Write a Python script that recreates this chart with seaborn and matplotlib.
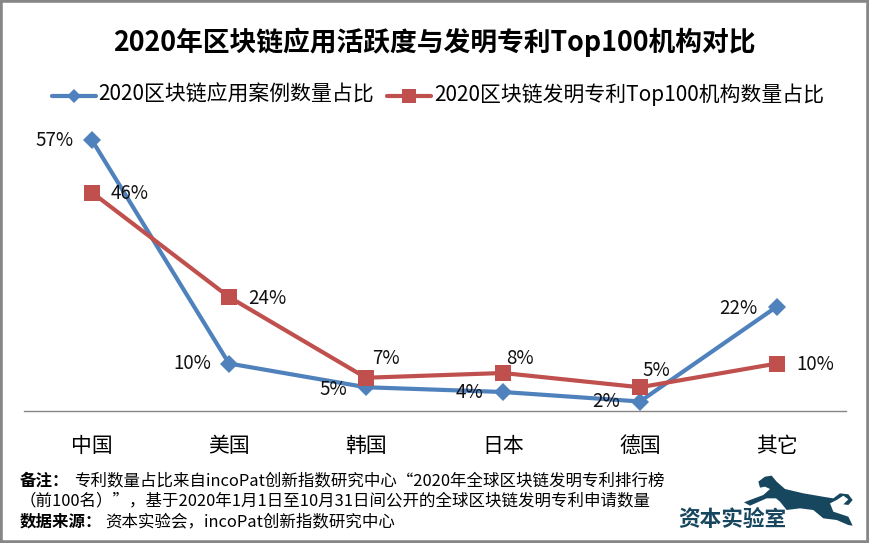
import matplotlib
matplotlib.use("Agg")
import matplotlib.pyplot as plt
import seaborn as sns
import pandas as pd
from matplotlib.patches import Polygon, Rectangle

W, H = 869, 543
categories = ["中国", "美国", "韩国", "日本", "德国", "其它"]
series_a_name = "2020区块链应用案例数量占比"
series_b_name = "2020区块链发明专利Top100机构数量占比"
series_a = [57, 10, 5, 4, 2, 22]
series_b = [46, 24, 7, 8, 5, 10]
title = "2020年区块链应用活跃度与发明专利Top100机构对比"
note_lines = ["专利数量占比来自incoPat创新指数研究中心“2020年全球区块链发明专利排行榜",
              "（前100名）”，基于2020年1月1日至10月31日间公开的全球区块链发明专利申请数量"]
source_line = "资本实验会，incoPat创新指数研究中心"

sns.set_theme(style="white")
plt.rcParams['font.family'] = ['Noto Sans CJK SC', 'DejaVu Sans']
BLUE, RED = "#4F81BD", "#C0504D"

fig = plt.figure(figsize=(W/100, H/100), dpi=100)
ax = fig.add_axes([23.5/W, 1-411/H, 822/W, 285/H])
df = pd.DataFrame({"cat": categories * 2,
                   "v": series_a + series_b,
                   "s": [series_a_name]*6 + [series_b_name]*6})
sns.lineplot(data=df, x="cat", y="v", hue="s", style="s", sort=False, ax=ax,
             palette=[BLUE, RED], markers={series_a_name: "D", series_b_name: "s"},
             dashes=False, linewidth=3, markersize=12, markeredgewidth=0, legend=False)
ax.lines[0].set_markersize(9.6)
ax.lines[1].set_markersize(12.2)
ax.set_xlim(-0.5, 5.5)
ax.set_ylim(0, 60)
ax.set_xlabel(""); ax.set_ylabel("")
ax.set_yticks([])
ax.tick_params(axis="x", length=0, pad=17, labelsize=15, labelcolor="black")
for s in ["top", "left", "right"]:
    ax.spines[s].set_visible(False)
ax.spines["bottom"].set_color("#868686")
ax.spines["bottom"].set_linewidth(1)
ax.patch.set_alpha(0)

offs_a = [(-37, 0), (-37, 0), (-33, 2), (-33, 1), (-34, 0), (-39, 2)]
offs_b = [(38, -1), (38, -1), (20, 19), (17, 14), (16, 17), (38, -1)]
for i in range(6):
    ax.annotate(f"{series_a[i]}%", (i, series_a[i]), xytext=(offs_a[i][0]*.72, -offs_a[i][1]*.72),
                textcoords="offset points", ha="center", va="center", fontsize=13.5, color="#111111")
    ax.annotate(f"{series_b[i]}%", (i, series_b[i]), xytext=(offs_b[i][0]*.72, offs_b[i][1]*.72),
                textcoords="offset points", ha="center", va="center", fontsize=13.5, color="#111111")

fig.text(434/W, 1-42/H, title, ha="center", va="center", fontsize=19.3, fontweight="bold", color="black")

def leg(x0, name, color, marker, tx):
    fig.add_artist(plt.Line2D([x0/W, (x0+44)/W], [1-96/H]*2, transform=fig.transFigure, color=color,
                              lw=3, solid_capstyle="round"))
    fig.add_artist(plt.Line2D([(x0+22)/W], [1-96/H], transform=fig.transFigure, color=color,
                              marker=marker, ms=9.6 if marker == "s" else 7.2, mew=0, ls=""))
    fig.text(tx/W, 1-95/H, name, ha="left", va="center", fontsize=15, color="black")
leg(52, series_a_name, BLUE, "D", 98)
leg(387, series_b_name, RED, "s", 434)

# notes
fs = 11.85
fig.text(20/W, 1-481/H, "备注：", fontsize=fs, fontweight="bold", va="center", color="black", family="Noto Sans CJK SC")
fig.text(74/W, 1-481/H, note_lines[0], fontsize=fs, va="center", color="black", family=["Noto Sans CJK SC"])
fig.text(20/W, 1-501/H, note_lines[1], fontsize=fs, va="center", color="black", family=["Noto Sans CJK SC"])
fig.text(20/W, 1-522/H, "数据来源：", fontsize=fs, fontweight="bold", va="center", color="black", family="Noto Sans CJK SC")
fig.text(105/W, 1-522/H, source_line, fontsize=fs, va="center", color="black", family=["Noto Sans CJK SC"])

# logo
NAVY = "#17465F"
fig.text(732.5/W, 1-519/H, "资本实验室", fontsize=15.6, fontweight="bold", ha="center", va="center", color=NAVY, family="Noto Sans CJK SC")
crop = [(265,50),(285,35),(305,32),(320,50),(345,72),(400,85),(470,97),(490,100),(510,85),(535,88),(548,105),(535,120),
        (520,118),(535,103),(520,92),(500,105),(480,115),(490,140),(535,155),(548,182),(535,180),(500,165),(460,160),
        (430,135),(390,130),(350,135),(330,110),(318,100),(290,100),(240,122),(222,112),(240,105),(280,90),(300,72),
        (285,65),(270,68)]
fig.add_artist(Polygon([((670+x/3)/W, 1-(465+y/3)/H) for x, y in crop], closed=True,
                       transform=fig.transFigure, fc=NAVY, ec="none"))

# frame
fig.add_artist(Rectangle((0, 0), 1, 1, transform=fig.transFigure, fc="none", ec="#868686", lw=4))
fig.savefig("out.png", dpi=100, facecolor="white")
